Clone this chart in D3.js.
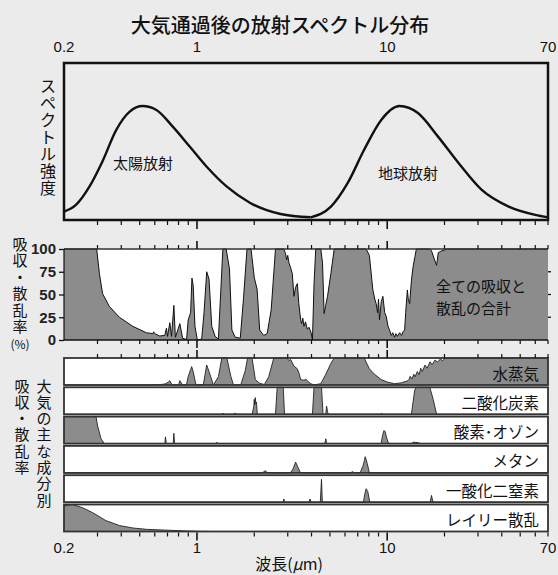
<!DOCTYPE html>
<html>
<head>
<meta charset="utf-8">
<script src="https://cdn.jsdelivr.net/npm/d3@7"></script>
<style>
  html, body { margin: 0; padding: 0; background: #ebebeb; }
  svg { display: block; font-family: "Noto Sans CJK JP", "Noto Sans", sans-serif; }
  .num { font-family: "Liberation Sans", Arial, sans-serif; }
</style>
</head>
<body>
<svg id="chart" width="558" height="575"></svg>
<script>
// Wavelength axis (µm)
const tickLabels = ["0.2", "1", "10", "70"];
const tickLabelValues = [0.2, 1, 10, 70];
const minorTicks = [0.3, 0.4, 0.5, 0.6, 0.7, 0.8, 0.9, 2, 3, 4, 5, 6, 7, 8, 9, 20, 30, 40, 50, 60, 70];
const majorTicks = [1, 10];

// Spectral intensity (arbitrary units) vs wavelength
const solarSpectrum = [[0.2,4.7],[0.231,9],[0.272,20.7],[0.318,36.7],[0.376,57],[0.443,68.8],[0.518,72.4],
  [0.612,69.9],[0.746,59.2],[0.918,46.3],[1.125,33.5],[1.436,20.7],[1.905,10.3],[2.75,3.2],[3.96,1.1]];
const earthSpectrum = [[3.96,1.1],[5.06,7.9],[6.2,23.1],[7.55,44.2],[9.3,63.5],[11.6,72.4],[14.5,67.9],
  [18.5,52.8],[23.7,35.9],[31.4,18.6],[43.5,7.9],[60,2.6],[70,1]];

// Total absorption + scattering (%)
const totalAbsorption = [[0.2,100],[0.297,100],[0.307,73],[0.319,51],[0.346,37],[0.391,25],[0.46,15],[0.542,8],
  [0.587,7],[0.592,9],[0.6,7],[0.637,4.4],[0.677,5],[0.691,13],[0.70,4],[0.72,19],[0.735,4],[0.756,38],[0.77,3],
  [0.813,18],[0.84,2],[0.882,0.5],[0.899,22],[0.926,30],[0.941,68],[0.955,60],[0.976,15],[1.004,0],[1.059,1],
  [1.089,30],[1.125,75],[1.157,67],[1.196,15],[1.245,4],[1.296,1],[1.368,100],[1.424,100],[1.482,78],[1.526,11],
  [1.589,3],[1.689,2],[1.758,47],[1.832,100],[1.923,100],[2.003,68],[2.07,56],[2.136,11],[2.243,5],[2.338,7],
  [2.455,33],[2.586,100],[2.86,100],[2.921,95],[2.96,88],[3.0,93],[3.042,85],[3.1,80],[3.17,73],[3.233,48],
  [3.3,58],[3.37,62],[3.43,40],[3.508,22],[3.55,18],[3.6,24],[3.65,15],[3.72,20],[3.8,12],[3.88,14],[3.98,8],
  [4.045,0],[4.124,62],[4.21,100],[4.475,100],[4.569,85],[4.659,29],[4.75,38],[4.856,48],[5.056,73],[5.264,100],
  [7.744,100],[8.058,93],[8.403,55],[8.6,45],[8.745,40],[8.9,30],[9.0,45],[9.105,22],[9.3,42],[9.489,48],
  [9.7,30],[9.879,26],[10.1,15],[10.28,11],[10.5,5],[10.7,8],[10.93,3],[11.1,7],[11.3,4],[11.62,8],[11.9,5],
  [12.1,9],[12.35,11],[12.5,30],[12.76,55],[12.9,45],[13.12,40],[13.4,65],[13.68,81],[14.0,92],[14.23,100],
  [16.74,100],[17.09,98],[17.6,90],[18.17,82],[18.55,96],[19.31,98],[20.11,99],[20.5,100],[70,100]];

// Absorption / scattering by constituent (%)
const waterVapour = [[0.2,0],[0.57,0],[0.6,1],[0.65,2],[0.68,4],[0.705,10],[0.72,16],[0.74,0],[0.8,0],[0.813,16],
  [0.84,0],[0.88,1],[0.899,31],[0.9375,68],[0.955,50],[0.988,0],[1.08,2],[1.125,74],[1.157,50],[1.22,0],[1.296,31],
  [1.351,100],[1.436,100],[1.508,31],[1.556,0],[1.7,1],[1.795,54],[1.845,100],[1.947,100],[2.027,20],[2.136,6],
  [2.262,2],[2.384,31],[2.533,100],[2.983,100],[3.042,90],[3.105,95],[3.233,70],[3.37,60],[3.45,40],[3.508,20],
  [3.62,18],[3.75,20],[3.85,12],[3.962,5],[4.124,0],[4.475,5],[4.756,40],[5.056,80],[5.264,100],[7.585,100],
  [7.744,85],[8.058,60],[8.568,40],[9.296,20],[10.09,10],[10.93,5],[11.86,8],[12.87,16],[13.0,20],[13.2,32],
  [13.5,22],[13.8,40],[14.0,30],[14.4,50],[14.7,38],[15.0,62],[15.3,50],[15.8,74],[16.2,62],[16.8,86],[17.2,75],
  [17.8,92],[18.4,85],[19.0,96],[19.6,90],[20.1,100],[70,100]];
const carbonDioxide = [[0.2,0],[1.35,0],[1.37,4],[1.39,0],[1.55,0],[1.59,4],[1.62,0],[1.95,0],[1.99,30],[2.0,55],
  [2.01,35],[2.025,62],[2.04,40],[2.055,45],[2.075,0],[2.586,0],[2.64,100],[2.841,100],[2.886,0],[4.045,0],
  [4.124,100],[4.513,100],[4.6,0],[4.75,0],[4.8,30],[4.856,10],[4.9,0],[9.2,0],[9.3,3],[9.5,0],[13.4,0],
  [13.95,90],[14.23,100],[16.74,100],[17.45,55],[18.17,0],[70,0]];
const oxygenOzone = [[0.2,100],[0.2946,100],[0.3005,65],[0.3131,18],[0.3259,0],[0.678,0],[0.683,25],[0.69,0],
  [0.75,0],[0.756,38],[0.762,0],[1.26,0],[1.271,5],[1.28,0],[4.7,0],[4.756,18],[4.8,0],[9.2,0],[9.3,3],[9.45,30],
  [9.6,48],[9.75,45],[9.9,25],[10.1,5],[10.3,0],[13.4,0],[13.7,5],[14.5,4],[14.9,0],[70,0]];
const methane = [[0.2,0],[2.2,0],[2.29,8],[2.35,0],[3.1,0],[3.2,15],[3.3,40],[3.4,20],[3.5,0],[6.4,0],[6.585,5],
  [6.7,0],[7.2,0],[7.45,25],[7.585,45],[7.66,60],[7.744,50],[7.85,35],[8.06,0],[70,0]];
const nitrousOxide = [[0.2,0],[2.84,0],[2.862,12],[2.89,0],[3.88,0],[3.928,12],[3.97,0],[4.45,0],[4.513,85],
  [4.56,0],[7.5,0],[7.62,30],[7.744,50],[7.9,40],[8.1,0],[16.8,0],[17.09,25],[17.4,0],[70,0]];
const rayleigh = [[0.2,95],[0.2216,100],[0.2503,88],[0.2827,70],[0.3327,40],[0.3914,22],[0.4603,13],[0.5419,8],
  [0.6914,5],[0.882,2],[1.04,0.5],[1.2,0],[70,0]];

const constituentNames = ["水蒸気", "二酸化炭素", "酸素･オゾン", "メタン", "一酸化二窒素", "レイリー散乱"];
const constituentSeries = [waterVapour, carbonDioxide, oxygenOzone, methane, nitrousOxide, rayleigh];
const percentTicks = [0, 25, 50, 75, 100];

const svg = d3.select("#chart");
const FILL = "#8c8c8c";
const INK = "#111";

const x = d3.scaleLog().domain([0.2, 70]).range([64, 548]);

// Title
svg.append("text").attr("x", 280).attr("y", 33).attr("text-anchor", "middle")
  .attr("font-size", 20).attr("font-weight", 500).attr("fill", INK)
  .text("大気通過後の放射スペクトル分布");

// Top wavelength labels
svg.selectAll(".toplab").data(tickLabelValues).join("text")
  .attr("class", "num")
  .attr("x", d => x(d)).attr("y", 52).attr("text-anchor", "middle")
  .attr("font-size", 15).attr("fill", INK)
  .text((d, i) => tickLabels[i]);

function ticks(y, dir) {
  const g = svg.append("g");
  g.selectAll("line.mi").data(minorTicks).join("line")
    .attr("x1", d => x(d)).attr("x2", d => x(d))
    .attr("y1", y).attr("y2", y + dir * 4)
    .attr("stroke", INK).attr("stroke-width", 1.2);
  g.selectAll("line.ma").data(majorTicks).join("line")
    .attr("x1", d => x(d)).attr("x2", d => x(d))
    .attr("y1", y).attr("y2", y + dir * 8)
    .attr("stroke", INK).attr("stroke-width", 1.6);
}

// Vertical label stacked one glyph per line; cy0 = centre of first glyph
function vertLabel(chars, cx, cy0, step, size) {
  const g = svg.append("g");
  g.selectAll("text").data(chars).join("text")
    .attr("x", cx).attr("y", (d, i) => cy0 + i * step)
    .attr("text-anchor", "middle").attr("dominant-baseline", "central")
    .attr("font-size", size).attr("fill", INK)
    .text(d => d);
}

// ---------- Top panel: emission spectra ----------
const topY0 = 63, topY1 = 220;
const yTop = d3.scaleLinear().domain([0, 100]).range([219, 63]);
svg.append("rect").attr("x", x(0.2)).attr("y", topY0).attr("width", x(70) - x(0.2)).attr("height", topY1 - topY0)
  .attr("fill", "none").attr("stroke", INK).attr("stroke-width", 2.5);
const specLine = d3.line().x(d => x(d[0])).y(d => yTop(d[1])).curve(d3.curveMonotoneX);
[solarSpectrum, earthSpectrum].forEach(s => {
  svg.append("path").datum(s).attr("d", specLine)
    .attr("fill", "none").attr("stroke", INK).attr("stroke-width", 2.4);
});
svg.append("text").attr("x", 143).attr("y", 162).attr("text-anchor", "middle").attr("dominant-baseline", "central")
  .attr("font-size", 15).attr("fill", INK).text("太陽放射");
svg.append("text").attr("x", 408).attr("y", 172).attr("text-anchor", "middle").attr("dominant-baseline", "central")
  .attr("font-size", 15).attr("fill", INK).text("地球放射");
vertLabel(["ス","ペ","ク","ト","ル","強","度"], 48, 85, 17, 16);
ticks(topY1 + 1, 1);

// ---------- Middle panel: total absorption ----------
const midY0 = 249, midY1 = 340;
const yMid = d3.scaleLinear().domain([0, 100]).range([midY1, midY0]);
svg.append("rect").attr("x", x(0.2)).attr("y", midY0).attr("width", x(70) - x(0.2)).attr("height", midY1 - midY0)
  .attr("fill", "#fff");
svg.append("path").datum(totalAbsorption)
  .attr("d", d3.area().x(d => x(d[0])).y0(yMid(0)).y1(d => yMid(d[1])))
  .attr("fill", FILL);
svg.append("path").datum(totalAbsorption)
  .attr("d", d3.line().x(d => x(d[0])).y(d => yMid(d[1])))
  .attr("fill", "none").attr("stroke", INK).attr("stroke-width", 1);
svg.append("line").attr("x1", x(0.2)).attr("x2", x(70)).attr("y1", midY0).attr("y2", midY0)
  .attr("stroke", "#333").attr("stroke-width", 1.5);
svg.append("line").attr("x1", x(0.2)).attr("x2", x(70)).attr("y1", midY1).attr("y2", midY1)
  .attr("stroke", INK).attr("stroke-width", 1.6);
svg.append("line").attr("x1", x(0.2)).attr("x2", x(0.2)).attr("y1", midY0).attr("y2", midY1)
  .attr("stroke", INK).attr("stroke-width", 1.2);
const yAxis = svg.append("g").attr("transform", `translate(${x(0.2)},0)`)
  .call(d3.axisLeft(yMid).tickValues(percentTicks).tickSize(5).tickPadding(3));
yAxis.select(".domain").remove();
yAxis.selectAll("line").attr("stroke", INK).attr("stroke-width", 1.3);
yAxis.selectAll("text").attr("font-size", 15).attr("font-weight", 700).attr("fill", "#222")
  .attr("font-family", "'Liberation Sans', Arial, sans-serif");
svg.selectAll(".rt").data([25, 50, 75]).join("line")
  .attr("x1", x(70)).attr("x2", x(70) + 3).attr("y1", d => yMid(d)).attr("y2", d => yMid(d))
  .attr("stroke", INK).attr("stroke-width", 1.3);
ticks(midY0, -1);
ticks(midY1, 1);
svg.append("text").attr("x", 436).attr("y", 285).attr("dominant-baseline", "central")
  .attr("font-size", 15).attr("fill", INK).text("全ての吸収と");
svg.append("text").attr("x", 436).attr("y", 307).attr("dominant-baseline", "central")
  .attr("font-size", 15).attr("fill", INK).text("散乱の合計");
vertLabel(["吸","収","・","散","乱","率"], 20, 243, 16.5, 15);
svg.append("text").attr("x", 20).attr("y", 343).attr("text-anchor", "middle").attr("dominant-baseline", "central")
  .attr("font-size", 12).attr("fill", INK).text("(%)");

// ---------- Constituent strips ----------
const stripTop = 358, stripStep = 29.3, stripH = 27;
constituentSeries.forEach((series, i) => {
  const t = stripTop + i * stripStep, b = t + stripH;
  const ys = d3.scaleLinear().domain([0, 100]).range([b, t]);
  const g = svg.append("g");
  g.append("rect").attr("x", x(0.2)).attr("y", t).attr("width", x(70) - x(0.2)).attr("height", stripH)
    .attr("fill", "#fff");
  g.append("path").datum(series)
    .attr("d", d3.area().x(d => x(d[0])).y0(b).y1(d => ys(d[1])))
    .attr("fill", FILL);
  g.append("path").datum(series)
    .attr("d", d3.line().x(d => x(d[0])).y(d => ys(d[1])))
    .attr("fill", "none").attr("stroke", "#222").attr("stroke-width", 0.9);
  g.append("rect").attr("x", x(0.2)).attr("y", t).attr("width", x(70) - x(0.2)).attr("height", stripH)
    .attr("fill", "none").attr("stroke", "#333").attr("stroke-width", 1.8);
  g.append("text").attr("x", 539).attr("y", t + stripH / 2 + 1).attr("text-anchor", "end")
    .attr("dominant-baseline", "central").attr("font-size", 15.5).attr("fill", INK)
    .text(constituentNames[i]);
});
const stripBottom = stripTop + 5 * stripStep + stripH;
ticks(stripTop, -1);
ticks(stripBottom + 1, 1);
vertLabel(["吸","収","・","散","乱","率"], 22, 385, 16.3, 15);
vertLabel(["大","気","の","主","な","成","分","別"], 44, 385, 16.3, 15);

// Bottom wavelength labels and axis title
svg.selectAll(".botlab").data(tickLabelValues).join("text")
  .attr("class", "num")
  .attr("x", d => x(d)).attr("y", 553).attr("text-anchor", "middle")
  .attr("font-size", 15).attr("fill", INK)
  .text((d, i) => tickLabels[i]);
const xt = svg.append("text").attr("x", 289).attr("y", 570).attr("text-anchor", "middle")
  .attr("font-size", 16).attr("fill", INK);
xt.append("tspan").text("波長(");
xt.append("tspan").attr("font-style", "italic").text("μ");
xt.append("tspan").text("m)");
</script>
</body>
</html>
